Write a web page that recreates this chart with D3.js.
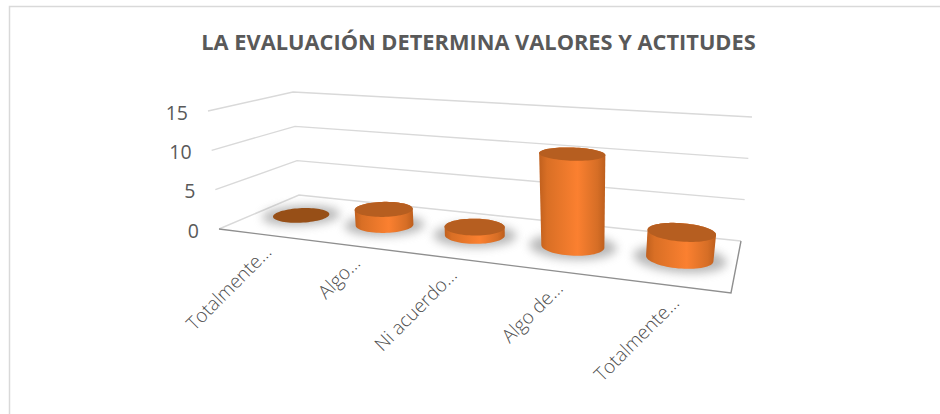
<!DOCTYPE html>
<html>
<head>
<meta charset="utf-8">
<script src="https://cdn.jsdelivr.net/npm/d3@7"></script>
<style>
  html, body { margin: 0; padding: 0; background: #fff; }
  svg { display: block; }
  text { font-family: "Open Sans", sans-serif; fill: #595959; }
</style>
</head>
<body>
<svg id="chart" width="940" height="414"></svg>
<script>
const categories = ["Totalmente…", "Algo…", "Ni acuerdo…", "Algo de…", "Totalmente…"];
const values = [0, 2, 1, 11, 3];
const yTicks = [0, 5, 10, 15];
const titleText = "LA EVALUACIÓN DETERMINA VALORES Y ACTITUDES";

const svg = d3.select("#chart");
const defs = svg.append("defs");

// each corner of the 3D box moves from its floor position up to its position at 15
const cornerScale = (floor, top) =>
  d3.scaleLinear().domain([0, 15]).range([floor, top]);
const backLeft = cornerScale([299, 195], [293, 92]);
const backRight = cornerScale([741, 241], [752, 117]);
const frontRight = cornerScale([731, 293], [752, 150]);
const frontLeft = cornerScale([219, 229], [208, 111]);

// maps (u, v) of the unit square onto the box plane at height h
// u runs left to right, v runs back to front
function project(u, v, h) {
  const [x0, y0] = backLeft(h);
  const [x1, y1] = backRight(h);
  const [x2, y2] = frontRight(h);
  const [x3, y3] = frontLeft(h);
  const dx1 = x1 - x2, dx2 = x3 - x2, sx = x0 - x1 + x2 - x3;
  const dy1 = y1 - y2, dy2 = y3 - y2, sy = y0 - y1 + y2 - y3;
  const den = dx1 * dy2 - dx2 * dy1;
  const g = (sx * dy2 - dx2 * sy) / den;
  const k = (dx1 * sy - sx * dy1) / den;
  const w = g * u + k * v + 1;
  return [
    (x1 - x0 + g * x1) * u + (x3 - x0 + k * x3) * v + x0,
    (y1 - y0 + g * y1) * u + (y3 - y0 + k * y3) * v + y0
  ].map(d => d / w);
}

const uScale = d3.scaleBand().domain(d3.range(categories.length)).range([0, 1]);
const radiusU = 0.06;
const radiusV = 0.195;
const circleAngles = d3.range(0, 2 * Math.PI, Math.PI / 36);

function ring(i, h, grow = 1) {
  const u = uScale(i) + uScale.bandwidth() / 2;
  return circleAngles.map(a =>
    project(u + Math.cos(a) * radiusU * grow, 0.5 + Math.sin(a) * radiusV * grow, h)
  );
}
const pathOf = d3.line().curve(d3.curveLinearClosed);

// frame
svg.append("path")
  .attr("d", "M9.5,414V6.5H940")
  .attr("fill", "none")
  .attr("stroke", "#d9d9d9")
  .attr("stroke-width", 1.5);

svg.append("text")
  .attr("x", 478.5)
  .attr("y", 50)
  .attr("text-anchor", "middle")
  .attr("font-size", 21.8)
  .attr("font-weight", 700)
  .text(titleText);

// gridlines
const grid = svg.append("g");
yTicks.filter(d => d > 0).forEach(t => {
  grid.append("path")
    .attr("d", d3.line()([frontLeft(t), backLeft(t), backRight(t)]))
    .attr("fill", "none")
    .attr("stroke", "#d9d9d9")
    .attr("stroke-width", 1.4);
});

// floor
grid.append("path")
  .attr("d", d3.line()([frontLeft(0), backLeft(0), backRight(0)]))
  .attr("fill", "none")
  .attr("stroke", "#d9d9d9")
  .attr("stroke-width", 1.4);
grid.append("path")
  .attr("d", d3.line()([frontLeft(0), frontRight(0), backRight(0)]))
  .attr("fill", "none")
  .attr("stroke", "#8f8f8f")
  .attr("stroke-width", 1.4);

// y labels
svg.append("g").selectAll("text")
  .data(yTicks)
  .join("text")
  .attr("x", d => frontLeft(d)[0] - 20)
  .attr("y", d => frontLeft(d)[1] + 8.5)
  .attr("text-anchor", "end")
  .attr("font-size", 19.5)
  .text(d => d);

// shadows
defs.append("filter")
  .attr("id", "soft")
  .attr("x", "-40%").attr("y", "-80%")
  .attr("width", "180%").attr("height", "260%")
  .append("feGaussianBlur")
  .attr("stdDeviation", 5);

svg.append("g").selectAll("path")
  .data(values)
  .join("path")
  .attr("d", (d, i) => pathOf(ring(i, 0, 1.38)))
  .attr("fill", "#8a8a8a")
  .attr("opacity", 0.6)
  .attr("filter", "url(#soft)");

// cylinders
const gradient = defs.append("linearGradient").attr("id", "side");
[[0, "#c0601e"], [0.12, "#d96f25"], [0.58, "#fb8030"], [0.88, "#d66e26"], [1, "#bd5e1d"]]
  .forEach(([o, c]) => gradient.append("stop").attr("offset", o).attr("stop-color", c));

const bars = svg.append("g").selectAll("g").data(values).join("g");
bars.append("path")
  .attr("d", (d, i) => pathOf(d3.polygonHull(ring(i, 0).concat(ring(i, d)))))
  .attr("fill", "url(#side)")
  .attr("display", d => d > 0 ? null : "none");
bars.append("path")
  .attr("d", (d, i) => pathOf(ring(i, d)))
  .attr("fill", d => d > 0 ? "#b65e20" : "#974f17");

// category labels, cut off the same way as the original
svg.append("g").selectAll("text")
  .data(categories)
  .join("text")
  .attr("transform", (d, i) => {
    const [x, y] = project(uScale(i) + uScale.bandwidth() / 2, 1, 0);
    return `translate(${x + 12},${y + 19}) rotate(-45)`;
  })
  .attr("text-anchor", "end")
  .attr("font-size", 19)
  .attr("font-weight", 300)
  .style("fill", "#4d4d4d")
  .text(d => d);
</script>
</body>
</html>
